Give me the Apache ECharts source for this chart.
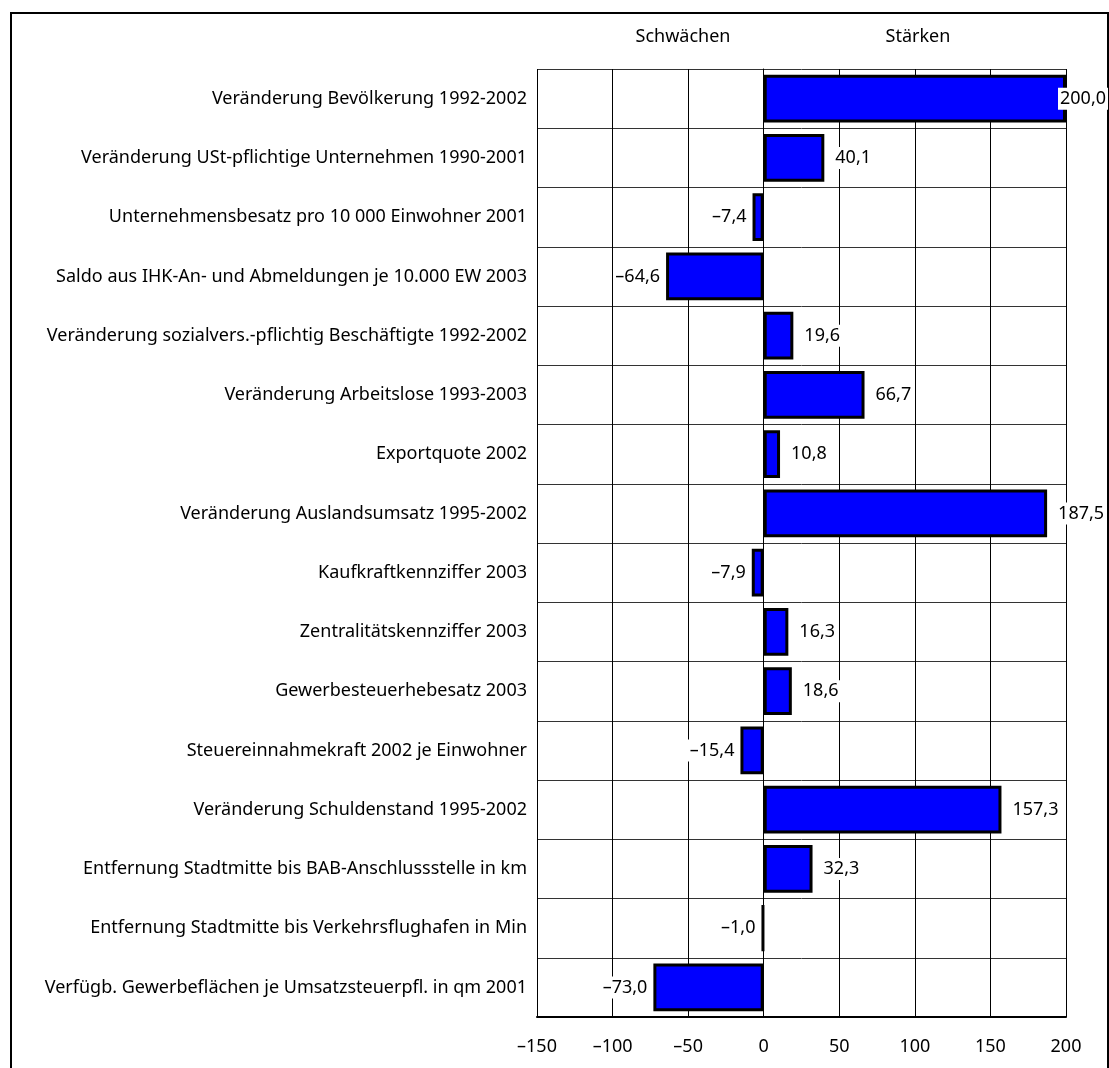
<!DOCTYPE html>
<html>
<head>
<meta charset="utf-8">
<script src="https://cdn.jsdelivr.net/npm/echarts@6/dist/echarts.min.js"></script>
<style>
  html, body { margin: 0; padding: 0; background: #fff; }
  #chart { width: 1109px; height: 1068px; }
</style>
</head>
<body>
<div id="chart"></div>
<script>
// Kategorien (von oben nach unten)
var categories = [
    'Veränderung Bevölkerung 1992-2002',
    'Veränderung USt-pflichtige Unternehmen 1990-2001',
    'Unternehmensbesatz pro 10 000 Einwohner 2001',
    'Saldo aus IHK-An- und Abmeldungen je 10.000 EW 2003',
    'Veränderung sozialvers.-pflichtig Beschäftigte 1992-2002',
    'Veränderung Arbeitslose 1993-2003',
    'Exportquote 2002',
    'Veränderung Auslandsumsatz 1995-2002',
    'Kaufkraftkennziffer 2003',
    'Zentralitätskennziffer 2003',
    'Gewerbesteuerhebesatz 2003',
    'Steuereinnahmekraft 2002 je Einwohner',
    'Veränderung Schuldenstand 1995-2002',
    'Entfernung Stadtmitte bis BAB-Anschlussstelle in km',
    'Entfernung Stadtmitte bis Verkehrsflughafen in Min',
    'Verfügb. Gewerbeflächen je Umsatzsteuerpfl. in qm 2001'
];
var values = [200.0, 40.1, -7.4, -64.6, 19.6, 66.7, 10.8, 187.5, -7.9, 16.3, 18.6, -15.4, 157.3, 32.3, -1.0, -73.0];
var headerLabels = ['Schwächen', 'Stärken'];

var FONT = 'Noto Sans';
var FS = 18;

var chart = echarts.init(document.getElementById('chart'));

// deutsche Schreibweise: Komma, Gedankenstrich als Minus
function fmt(v, digits) {
    return v.toFixed(digits).replace('.', ',').replace('-', '\u2013');
}

var option = {
    backgroundColor: '#fff',
    animation: false,
    textStyle: { fontFamily: FONT },
    graphic: [
        { // Rahmen
            type: 'rect',
            shape: { x: 11, y: 13, width: 1097, height: 1100 },
            style: { fill: null, stroke: '#000', lineWidth: 2 },
            silent: true
        },
        {
            type: 'text',
            x: 683, y: 37,
            style: { text: headerLabels[0], font: FS + 'px "' + FONT + '"', fill: '#000', align: 'center', verticalAlign: 'middle' }
        },
        {
            type: 'text',
            x: 918, y: 37,
            style: { text: headerLabels[1], font: FS + 'px "' + FONT + '"', fill: '#000', align: 'center', verticalAlign: 'middle' }
        }
    ],
    grid: {
        left: 537,
        right: 43,
        top: 69,
        bottom: 51
    },
    xAxis: {
        type: 'value',
        min: -150,
        max: 200,
        interval: 50,
        axisLine: { show: true, onZero: false, lineStyle: { color: '#000', width: 2 } },
        axisTick: { show: false },
        axisLabel: {
            color: '#000', fontSize: FS, margin: 21, fontFamily: FONT,
            formatter: function (v) { return fmt(v, 0); }
        },
        splitLine: { show: true, lineStyle: { color: '#000', width: 1 } }
    },
    yAxis: {
        type: 'category',
        inverse: true,
        data: categories,
        axisLine: { show: true, lineStyle: { color: '#000', width: 1 } },
        axisTick: { show: false },
        axisLabel: { color: '#000', fontSize: FS, margin: 10, fontFamily: FONT, interval: 0 },
        splitLine: { show: true, lineStyle: { color: '#333', width: 1 } }
    },
    series: [{
        type: 'bar',
        barCategoryGap: '19%',
        itemStyle: { color: '#0000ff', borderColor: '#000', borderWidth: 3 },
        label: {
            show: true,
            position: 'right',
            distance: 9,
            color: '#000',
            fontSize: FS,
            fontFamily: FONT,
            backgroundColor: '#fff',
            padding: [2, 2],
            formatter: function (p) { return fmt(p.value, 1); }
        },
        data: values.map(function (v, i) {
            if (v < 0) {
                return { value: v, label: { position: 'left', distance: 4 } };
            }
            if (i === 0) {
                // oberster Balken: Beschriftung ragt in den Balken hinein
                return { value: v, label: { distance: -8 } };
            }
            return v;
        })
    }]
};

chart.setOption(option);
</script>
</body>
</html>
